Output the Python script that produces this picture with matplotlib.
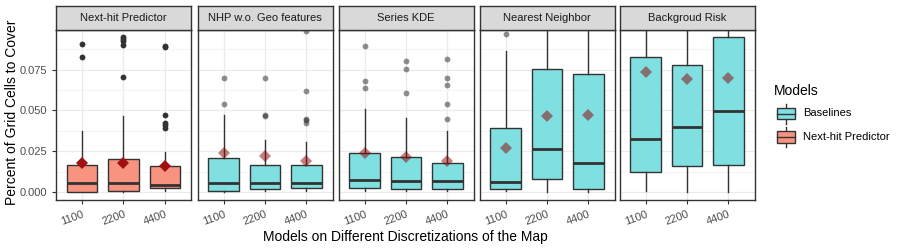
import matplotlib.pyplot as plt
from matplotlib.patches import Rectangle
from matplotlib.lines import Line2D
import numpy as np

plt.rcParams["font.family"] = ["Liberation Sans", "DejaVu Sans"]

# facets and grid sizes
panels = ["Next-hit Predictor", "NHP w.o. Geo features", "Series KDE",
          "Nearest Neighbor", "Backgroud Risk"]
groups = ["Next-hit Predictor", "Baselines", "Baselines", "Baselines", "Baselines"]
grids = ["1100", "2200", "4400"]

# box statistics, one row per panel, one value per grid
q1 = [[0.0002, 0.0008, 0.0022],
      [0.0004, 0.0017, 0.0023],
      [0.0023, 0.0017, 0.0017],
      [0.0017, 0.0078, 0.0017],
      [0.0121, 0.0157, 0.0163]]
med = [[0.0057, 0.0057, 0.0045],
       [0.0057, 0.0057, 0.0057],
       [0.0075, 0.0069, 0.0069],
       [0.0063, 0.0266, 0.0180],
       [0.0327, 0.0400, 0.0498]]
q3 = [[0.0165, 0.0200, 0.0157],
      [0.0206, 0.0164, 0.0165],
      [0.0237, 0.0213, 0.0176],
      [0.0390, 0.0756, 0.0721],
      [0.0825, 0.0776, 0.0948]]
whis_lo = [[0.0001, 0.0002, 0.0008],
           [0.0002, 0.0006, 0.0008],
           [0.0008, 0.0006, 0.0006],
           [0.0006, 0.0002, 0.0002],
           [0.0008, 0.0002, 0.0002]]
whis_hi = [[0.0372, 0.0466, 0.0243],
           [0.0472, 0.0319, 0.0304],
           [0.0507, 0.0455, 0.0374],
           [0.0864, 0.1150, 0.1150],
           [0.1150, 0.1150, 0.1150]]
means = [[0.0176, 0.0176, 0.0159],
         [0.0237, 0.0221, 0.0190],
         [0.0237, 0.0216, 0.0192],
         [0.0272, 0.0466, 0.0470],
         [0.0735, 0.0690, 0.0697]]
outliers = [
    [[0.0910, 0.0825],
     [0.0703, 0.0900, 0.0923, 0.0937, 0.0950],
     [0.0390, 0.0409, 0.0423, 0.0470, 0.0888, 0.0895]],
    [[0.0537, 0.0697],
     [0.0464, 0.0472, 0.0697],
     [0.0425, 0.0441, 0.0447, 0.0619, 0.0987]],
    [[0.0635, 0.0678, 0.0893],
     [0.0605, 0.0752, 0.0800],
     [0.0447, 0.0537, 0.0654, 0.0697, 0.0813]],
    [[0.0968], [], []],
    [[], [], []],
]

fill = {"Baselines": "#7FDFE1", "Next-hit Predictor": "#F7937F"}
dark = "#333333"
W, H = 900, 250

fig = plt.figure(figsize=(9, 2.5), dpi=100)


def px_axes(x0, y0, x1, y1):
    return fig.add_axes([x0 / W, 1 - y1 / H, (x1 - x0) / W, (y1 - y0) / H])


lefts = [56, 197.5, 338.5, 479.5, 619.5]
pw = 135
top, bottom, strip_top = 29.5, 200, 6

for i, name in enumerate(panels):
    ax = px_axes(lefts[i], top, lefts[i] + pw, bottom)
    stats = []
    for j, g in enumerate(grids):
        stats.append(dict(med=med[i][j], q1=q1[i][j], q3=q3[i][j],
                          whislo=whis_lo[i][j], whishi=whis_hi[i][j],
                          mean=means[i][j], fliers=outliers[i][j], label=g))
    first = i == 0
    ax.bxp(stats, positions=[1, 2, 3], widths=0.74, patch_artist=True,
           showcaps=False, showmeans=True, zorder=3,
           boxprops=dict(facecolor=fill[groups[i]], edgecolor=dark, linewidth=1),
           medianprops=dict(color=dark, linewidth=2),
           whiskerprops=dict(color=dark, linewidth=1),
           flierprops=dict(marker="o", markersize=4.2, markeredgewidth=0,
                           markerfacecolor=dark, alpha=1 if first else 0.55),
           meanprops=dict(marker="D", markersize=6.5, markeredgewidth=0,
                          markerfacecolor="#A01010" if first else "#8B0000",
                          alpha=1 if first else 0.5))
    ax.set_xlim(0.37, 3.63)
    ax.set_ylim(-0.0049, 0.0996)
    ax.set_yticks([0, 0.025, 0.05, 0.075])
    ax.set_yticks(np.arange(0.0125, 0.1, 0.025), minor=True)
    ax.grid(True, which="major", color="#EBEBEB", linewidth=0.9, zorder=0)
    ax.grid(True, which="minor", axis="y", color="#F3F3F3", linewidth=0.6, zorder=0)
    ax.set_axisbelow(True)
    ax.set_xticks([1, 2, 3])
    ax.set_xticklabels(grids, rotation=20, ha="right", rotation_mode="anchor",
                       fontsize=8, color="#4D4D4D")
    ax.tick_params(axis="both", which="major", length=3, color=dark, width=0.8)
    ax.tick_params(axis="y", which="minor", length=0)
    if first:
        ax.set_yticklabels(["0.000", "0.025", "0.050", "0.075"], fontsize=8,
                           color="#4D4D4D")
    else:
        ax.tick_params(axis="y", which="major", length=0, labelleft=False)
    for s in ax.spines.values():
        s.set_color(dark)
        s.set_linewidth(1)

    # facet strip
    st = px_axes(lefts[i], strip_top, lefts[i] + pw, top)
    st.set_facecolor("#D9D9D9")
    st.set_xticks([])
    st.set_yticks([])
    for s in st.spines.values():
        s.set_color(dark)
        s.set_linewidth(1)
    st.text(0.5, 0.48, name, ha="center", va="center", fontsize=8, color="#1A1A1A")

fig.text(405 / W, 1 - 237 / H, "Models on Different Discretizations of the Map",
         ha="center", va="center", fontsize=10)
fig.text(12 / W, 1 - 112 / H, "Percent of Grid Cells to Cover", ha="center",
         va="center", rotation=90, fontsize=10)

# legend drawn like ggplot boxplot keys
lg = fig.add_axes([0, 0, 1, 1], facecolor="none")
lg.set_xlim(0, W)
lg.set_ylim(H, 0)
lg.axis("off")
lg.text(774, 91, "Models", fontsize=10, va="center", ha="left")
for k, (lab, yc) in enumerate([("Baselines", 113.5), ("Next-hit Predictor", 137)]):
    lg.add_line(Line2D([786, 786], [yc - 10, yc + 10], color=dark, linewidth=1))
    lg.add_patch(Rectangle((777, yc - 5.8), 17.5, 11.6, facecolor=fill[lab],
                           edgecolor=dark, linewidth=1, zorder=2))
    lg.add_line(Line2D([777, 794.5], [yc, yc], color=dark, linewidth=1, zorder=3))
    lg.text(803, yc, lab, fontsize=8, va="center", ha="left")

fig.savefig("out.png", dpi=100)
